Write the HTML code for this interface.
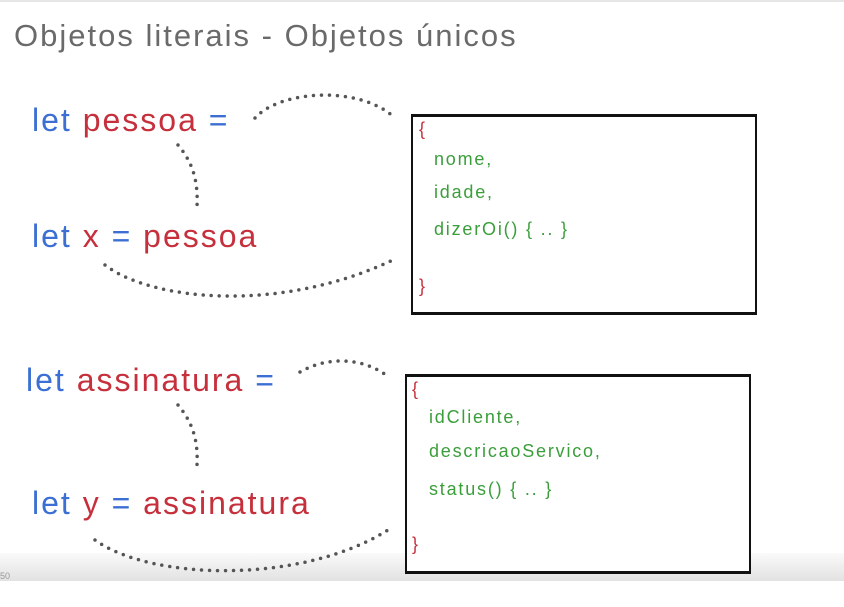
<!DOCTYPE html>
<html><head><meta charset="utf-8"><style>
body{margin:0;width:844px;height:607px;background:#fff;overflow:hidden;position:relative;font-family:"Liberation Sans",sans-serif}
.t{position:absolute;white-space:nowrap;z-index:2}
.b{color:#3b6fd3}.r{color:#c6303c}.g{color:#3a9e3a}
.big{font-size:32px;letter-spacing:2px}
.box{position:absolute;border:2px solid #111;border-top-width:3px;border-bottom-width:3px;background:#fff;z-index:1}
.s{font-size:18px;letter-spacing:1.8px}
svg{z-index:1}
</style></head><body>
<div style="position:absolute;left:0;top:0;width:844px;height:2px;background:#e6e6e6"></div>
<div class="t" style="left:14px;top:18px;font-size:31px;letter-spacing:2px;color:#6a6a6a">Objetos literais - Objetos únicos</div>

<div style="position:absolute;left:0;top:553px;width:844px;height:28px;background:linear-gradient(#fafafa,#e2e2e2);z-index:0"></div>

<svg width="844" height="607" style="position:absolute;left:0;top:0">
<g fill="none" stroke="#555" stroke-width="3.5" stroke-linecap="round" stroke-dasharray="0 8">
<path d="M255 118 C280 90 360 85 395 118"/>
<path d="M178 145 C195 165 198 185 197 207"/>
<path d="M105 265 C150 300 280 315 397 258"/>
<path d="M300 372 C330 355 365 358 390 378"/>
<path d="M178 405 C195 425 198 445 197 465"/>
<path d="M95 540 C150 580 300 585 388 530"/>
</g>
</svg>

<div class="t big" style="left:32px;top:102px"><span class="b">let </span><span class="r">pessoa</span><span class="b"> =</span></div>
<div class="t big" style="left:32px;top:218px"><span class="b">let </span><span class="r">x</span><span class="b"> = </span><span class="r">pessoa</span></div>
<div class="t big" style="left:26px;top:362px"><span class="b">let </span><span class="r">assinatura</span><span class="b"> =</span></div>
<div class="t big" style="left:32px;top:485px"><span class="b">let </span><span class="r">y</span><span class="b"> = </span><span class="r">assinatura</span></div>

<div class="box" style="left:411px;top:114px;width:342px;height:195px"></div>
<div class="t r s" style="left:419px;top:119px">{</div>
<div class="t g s" style="left:434px;top:149px">nome,</div>
<div class="t g s" style="left:434px;top:182px">idade,</div>
<div class="t g s" style="left:434px;top:219px">dizerOi() { .. }</div>
<div class="t r s" style="left:419px;top:276px">}</div>

<div class="box" style="left:405px;top:374px;width:342px;height:194px"></div>
<div class="t r s" style="left:412px;top:379px">{</div>
<div class="t g s" style="left:429px;top:407px">idCliente,</div>
<div class="t g s" style="left:429px;top:441px">descricaoServico,</div>
<div class="t g s" style="left:429px;top:479px">status() { .. }</div>
<div class="t r s" style="left:412px;top:534px">}</div>

<div class="t" style="left:0;top:571px;font-size:9px;color:#999">50</div>
</body></html>
